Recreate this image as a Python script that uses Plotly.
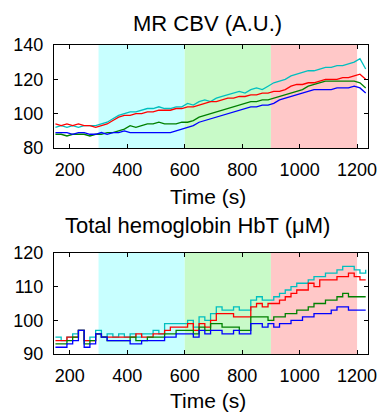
import plotly.graph_objects as go
from plotly.subplots import make_subplots

# Time samples (s)
time_s = list(range(150, 1231, 20))

# Stimulus phases (s)
phase_start = [300, 600, 900]
phase_end = [600, 900, 1200]
phase_colors = ["#C8FFFF", "#C8FAC8", "#FFC8C8"]

# MR CBV (A.U.)
cbv_cyan = [92, 93, 92, 93, 92,  93, 93, 93, 94, 95,  97, 99, 100, 101, 101,
            102, 103, 103, 104, 103,  103, 104, 104, 106, 105,  107, 108, 107, 109, 110,
            111, 112, 113, 112, 114,  115, 114, 116, 118, 119,  120, 122, 123, 124, 125,
            125, 126, 127, 127, 128,  128, 129, 130, 132, 126]
cbv_red = [94, 93, 94, 93, 94,  93, 93, 92, 93, 94,  96, 98, 99, 99, 100,
           100, 101, 101, 102, 102,  102, 103, 103, 104, 104,  105, 106, 107, 107, 108,
           109, 109, 110, 110, 111,  111, 112, 112, 113, 113,  114, 116, 117, 117, 118,
           118, 119, 120, 120, 120,  121, 121, 122, 123, 120]
cbv_green = [88, 88, 87, 88, 88,  88, 87, 88, 88, 89,  89, 90, 91, 93, 92,
             93, 94, 94, 95, 94,  94, 94, 95, 95, 96,  98, 99, 100, 101, 102,
             103, 104, 105, 106, 107,  107, 108, 108, 109, 110,  111, 112, 113, 114, 116,
             117, 118, 119, 119, 119,  119, 119, 119, 118, 115]
cbv_blue = [89, 89, 89, 88, 89,  89, 88, 88, 89, 88,  89, 89, 90, 89, 89,
            89, 89, 89, 89, 89,  89, 90, 91, 92, 93,  95, 96, 97, 98, 99,
            100, 101, 102, 103, 104,  104, 105, 105, 106, 108,  109, 110, 111, 112, 113,
            114, 114, 114, 114, 115,  115, 115, 116, 115, 112]

# Total hemoglobin HbT (uM)
hbt_cyan = [95, 94, 95, 96, 97,  94, 95, 97, 95, 96,  95, 96, 95, 96, 95,
            96, 96, 97, 96, 99,  99, 99, 99, 100, 98,  101, 100, 102, 104, 103,
            103, 104, 103, 103, 106,  107, 106, 106, 107, 108,  109, 110, 111, 111, 112,
            113, 113, 114, 114, 115,  116, 116, 115, 114, 115]
hbt_red = [94, 94, 95, 95, 97,  94, 94, 96, 95, 95,  95, 95, 95, 95, 96,
           95, 95, 96, 96, 97,  98, 98, 98, 99, 97,  99, 98, 100, 102, 102,
           102, 101, 101, 101, 104,  105, 104, 105, 105, 106,  107, 108, 109, 109, 111,
           110, 112, 112, 112, 113,  113, 114, 113, 112, 112]
hbt_green = [93, 93, 94, 95, 97,  93, 94, 96, 95, 94,  94, 94, 94, 95, 94,
             94, 95, 95, 95, 96,  96, 97, 97, 97, 96,  98, 97, 99, 99, 98,
             98, 98, 97, 97, 101,  101, 101, 100, 101, 101,  102, 102, 103, 103, 104,
             105, 105, 106, 106, 107,  108, 107, 107, 107, 107]
hbt_blue = [92, 92, 93, 94, 97,  92, 93, 96, 95, 94,  94, 94, 94, 93, 93,
            94, 94, 94, 94, 95,  95, 96, 96, 96, 95,  97, 96, 97, 97, 96,
            96, 97, 96, 96, 99,  99, 98, 99, 98, 99,  99, 100, 100, 101, 101,
            102, 102, 102, 103, 104,  104, 103, 103, 103, 103]

colors = {"cyan": "#00BFBF", "red": "#FF0000", "green": "#008000", "blue": "#0000FF"}

fig = make_subplots(rows=2, cols=1, vertical_spacing=0.34)
fig.update_layout(
    yaxis=dict(domain=[0.6667, 1.0]),
    yaxis2=dict(domain=[0.0, 0.327]),
)

for row, series, shape in [(1, [cbv_cyan, cbv_red, cbv_green, cbv_blue], "linear"),
                           (2, [hbt_cyan, hbt_red, hbt_green, hbt_blue], "hv")]:
    for vals, cname in zip(series, ["cyan", "red", "green", "blue"]):
        fig.add_trace(go.Scatter(x=time_s, y=vals, mode="lines", line_shape=shape,
                                 line=dict(color=colors[cname], width=1.3),
                                 showlegend=False), row=row, col=1)
    for s, e, c in zip(phase_start, phase_end, phase_colors):
        fig.add_shape(type="rect", xref="x" if row == 1 else "x2",
                      yref="y domain" if row == 1 else "y2 domain",
                      x0=s, x1=e, y0=0, y1=1, fillcolor=c, line_width=0,
                      layer="below")

font_family = "Liberation Sans, Arial, sans-serif"
axis_common = dict(showline=True, linecolor="black", linewidth=1, mirror="allticks",
                   ticks="inside", ticklen=4, tickcolor="black", showgrid=False,
                   zeroline=False, automargin=False, ticklabeloverflow="allow",
                   tickfont=dict(size=18, color="black", family=font_family))
fig.update_xaxes(range=[145, 1238], tickvals=[200, 400, 600, 800, 1000, 1200],
                 ticklabelstandoff=5, **axis_common)
fig.update_yaxes(ticklabelstandoff=6, **axis_common)
fig.update_yaxes(range=[80, 140], tickvals=[80, 100, 120, 140], row=1, col=1)
fig.update_yaxes(range=[90, 120], tickvals=[90, 100, 110, 120], row=2, col=1)

title_font = dict(size=22, color="black", family=font_family)
label_font = dict(size=21, color="black", family=font_family)
fig.update_layout(
    annotations=[
        dict(text="MR CBV (A.U.)", x=0.489, y=1.071, xref="paper", yref="paper",
             xanchor="center", yanchor="middle", showarrow=False, font=title_font),
        dict(text="Time (s)", x=0.489, y=0.511, xref="paper", yref="paper",
             xanchor="center", yanchor="middle", showarrow=False, font=label_font),
        dict(text="Total hemoglobin HbT (μM)", x=0.458, y=0.415, xref="paper", yref="paper",
             xanchor="center", yanchor="middle", showarrow=False, font=title_font),
        dict(text="Time (s)", x=0.489, y=-0.152, xref="paper", yref="paper",
             xanchor="center", yanchor="middle", showarrow=False, font=label_font),
    ],
    width=377, height=413,
    margin=dict(l=54, r=9, t=45, b=59),
    plot_bgcolor="white", paper_bgcolor="white",
    font=dict(family=font_family, color="black"),
)

fig.write_html("out.html", config={"displayModeBar": False},
               post_script="document.body.style.margin='0';")
